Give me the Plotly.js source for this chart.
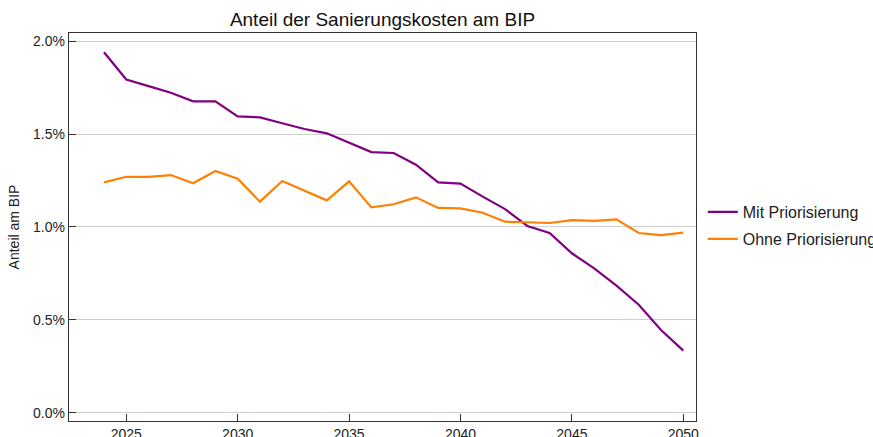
<!DOCTYPE html>
<html>
<head>
<meta charset="utf-8">
<script src="https://cdn.plot.ly/plotly-3.0.1.min.js"></script>
<style>html,body{margin:0;padding:0;background:#fff;}#chart{width:873px;height:437px;}</style>
</head>
<body>
<div id="chart"></div>
<script>
const years = [2024,2025,2026,2027,2028,2029,2030,2031,2032,2033,2034,2035,2036,2037,2038,2039,2040,2041,2042,2043,2044,2045,2046,2047,2048,2049,2050];
const mitPriorisierung = [1.940,1.794,1.758,1.722,1.676,1.676,1.595,1.590,1.558,1.527,1.504,1.453,1.403,1.398,1.335,1.240,1.233,1.163,1.096,1.005,0.967,0.858,0.777,0.684,0.581,0.445,0.334];
const ohnePriorisierung = [1.240,1.270,1.269,1.279,1.235,1.301,1.259,1.136,1.247,1.197,1.143,1.245,1.105,1.122,1.159,1.102,1.100,1.076,1.028,1.025,1.021,1.036,1.032,1.041,0.967,0.956,0.969];
const seriesNames = ["Mit Priorisierung","Ohne Priorisierung"];
const chartTitle = "Anteil der Sanierungskosten am BIP";
const yTitle = "Anteil am BIP";
const yTickVals = [0,0.5,1.0,1.5,2.0];
const yTickText = ["0.0%","0.5%","1.0%","1.5%","2.0%"];
const xTickVals = [2025,2030,2035,2040,2045,2050];

const traces = [
  {x: years, y: mitPriorisierung, name: seriesNames[0], type:"scatter", mode:"lines", line:{color:"#800080", width:2.2}, legend:"legend"},
  {x: years, y: ohnePriorisierung, name: seriesNames[1], type:"scatter", mode:"lines", line:{color:"#ff8000", width:2.2}, legend:"legend2"}
];
const legendCommon = {xref:"container", yref:"container", xanchor:"left", yanchor:"middle", font:{size:16, color:"#222"}, bgcolor:"rgba(0,0,0,0)"};
const layout = {
  width: 873, height: 437,
  margin: {l:69, r:177, t:33, b:16},
  paper_bgcolor:"#fff", plot_bgcolor:"#fff",
  font: {family:"Liberation Sans, Arial, sans-serif", color:"#222", size:14},
  title: {text: chartTitle, x:0.5, xref:"paper", xanchor:"center", y:0.955, yref:"container", yanchor:"middle", font:{size:19, color:"#111"}},
  xaxis: {range:[2022.43,2050.57], tickvals:xTickVals, ticks:"inside", ticklen:7, tickcolor:"#333", showgrid:false, zeroline:false,
          showline:true, linecolor:"#333", linewidth:1.3, mirror:true, tickfont:{size:14, color:"#222"}},
  yaxis: {range:[-0.045,2.044], tickvals:yTickVals, ticktext:yTickText, ticks:"inside", ticklen:7, tickcolor:"#333",
          showgrid:true, gridcolor:"#d0d0d0", gridwidth:1, zeroline:false, showline:true, linecolor:"#333", linewidth:1.3, mirror:true,
          tickfont:{size:14, color:"#222"},
          title:{text:yTitle, font:{size:14, color:"#222"}, standoff:10}},
  legend: Object.assign({x:0.805, y:0.515}, legendCommon),
  legend2: Object.assign({x:0.805, y:0.453}, legendCommon),
  showlegend: true
};
Plotly.newPlot("chart", traces, layout, {displayModeBar:false, staticPlot:true});
</script>
</body>
</html>
